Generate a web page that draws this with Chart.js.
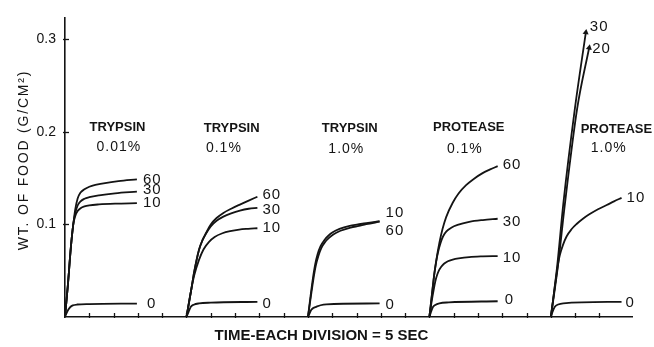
<!DOCTYPE html>
<html><head><meta charset="utf-8">
<script src="https://cdn.jsdelivr.net/npm/chart.js@4"></script>
<style>html,body{margin:0;padding:0;background:#fff}</style>
</head><body>
<canvas id="c" width="654" height="347"></canvas>
<script>
// ---------------- data ----------------
// time in seconds (each axis division = 5 s); each trial starts 5 divisions after the previous one
const trialStart  = [0, 25, 50, 75, 100];
const trialEnzyme = ['TRYPSIN', 'TRYPSIN', 'TRYPSIN', 'PROTEASE', 'PROTEASE'];
const trialConc   = ['0.01%', '0.1%', '1.0%', '0.1%', '1.0%'];
const yTickValues = [0.1, 0.2, 0.3];
const xMax = 116.7;   // s
const yMax = 0.3238;  // g/cm2

// Trypsin 0.01 %
const tA60 = [0, 0.6, 1.2, 1.7, 2.1, 2.6, 3.2, 4.0, 5.0, 6.5, 8.25, 11.0, 14.8];
const vA60 = [0, 0.035, 0.075, 0.100, 0.116, 0.128, 0.1345, 0.138, 0.1408, 0.143, 0.1448, 0.1468, 0.1487];
const tA30 = [0, 0.6, 1.2, 1.7, 2.1, 2.6, 3.2, 4.0, 5.0, 7.0, 10.3, 14.8];
const vA30 = [0, 0.035, 0.075, 0.100, 0.112, 0.1205, 0.125, 0.1278, 0.1295, 0.1315, 0.1337, 0.1355];
const tA10 = [0, 0.6, 1.2, 1.7, 2.1, 2.6, 3.2, 4.0, 5.0, 7.0, 10.3, 14.8];
const vA10 = [0, 0.035, 0.075, 0.100, 0.109, 0.1145, 0.1175, 0.1195, 0.1207, 0.1217, 0.1225, 0.123];
const tA0  = [0, 0.3, 0.7, 1.1, 1.6, 2.5, 5.0, 14.8];
const vA0  = [0, 0.004, 0.008, 0.0108, 0.0125, 0.0135, 0.014, 0.0145];
// Trypsin 0.1 %
const tB60 = [0, 1.0, 1.6, 2.6, 3.3, 4.0, 5.0, 6.2, 7.6, 9.2, 11.0, 12.8, 14.6];
const vB60 = [0, 0.030, 0.049, 0.073, 0.083, 0.0905, 0.100, 0.107, 0.1125, 0.117, 0.1215, 0.1258, 0.130];
const tB30 = [0, 1.0, 1.6, 2.6, 3.3, 4.0, 5.0, 6.2, 7.6, 9.2, 11.0, 12.8, 14.6];
const vB30 = [0, 0.030, 0.049, 0.073, 0.083, 0.0900, 0.098, 0.104, 0.1085, 0.112, 0.115, 0.117, 0.118];
const tB10 = [0, 1.0, 1.6, 2.6, 3.5, 4.6, 5.8, 7.4, 9.0, 10.85, 12.7, 14.6];
const vB10 = [0, 0.030, 0.045, 0.062, 0.073, 0.081, 0.0865, 0.0905, 0.0928, 0.0945, 0.0953, 0.0959];
const tB0  = [0, 0.4, 0.9, 1.5, 2.6, 5.0, 14.6];
const vB0  = [0, 0.005, 0.011, 0.0133, 0.0147, 0.0155, 0.0164];
// Trypsin 1.0 %
const tC10 = [0, 0.5, 1.0, 1.5, 2.0, 2.6, 3.4, 4.2, 5.1, 6.5, 8.6, 10.3, 12.0, 14.75];
const vC10 = [0, 0.021, 0.041, 0.057, 0.068, 0.0765, 0.0833, 0.0878, 0.0915, 0.0952, 0.0985, 0.1000, 0.1015, 0.1035];
const tC60 = [0, 0.55, 1.1, 1.6, 2.15, 2.75, 3.55, 4.4, 5.3, 6.7, 8.8, 10.5, 12.0, 14.75];
const vC60 = [0, 0.020, 0.040, 0.055, 0.066, 0.0745, 0.0812, 0.0858, 0.0895, 0.0932, 0.0966, 0.0985, 0.1003, 0.103];
const tC0  = [0, 0.3, 0.7, 1.1, 1.7, 2.6, 3.8, 14.75];
const vC0  = [0, 0.0035, 0.0078, 0.0097, 0.011, 0.0127, 0.0137, 0.0147];
// Protease 0.1 %
const tD60 = [0, 0.5, 1.0, 1.5, 2.05, 2.7, 3.45, 4.8, 6.0, 7.55, 9.2, 10.95, 12.5, 14.05];
const vD60 = [0, 0.023, 0.046, 0.064, 0.080, 0.095, 0.108, 0.1235, 0.1335, 0.1425, 0.1495, 0.1555, 0.1595, 0.163];
const tD30 = [0, 0.5, 1.0, 1.4, 1.8, 2.3, 2.8, 3.5, 4.5, 5.8, 8.2, 11.0, 14.05];
const vD30 = [0, 0.023, 0.046, 0.060, 0.0705, 0.080, 0.087, 0.0925, 0.0965, 0.0995, 0.1028, 0.1048, 0.1062];
const tD10 = [0, 0.5, 0.9, 1.2, 1.5, 1.9, 2.4, 3.0, 3.8, 4.8, 6.0, 8.2, 11.0, 14.05];
const vD10 = [0, 0.018, 0.030, 0.038, 0.044, 0.0495, 0.054, 0.0575, 0.0603, 0.062, 0.0633, 0.0648, 0.0655, 0.0658];
const tD0  = [0, 0.3, 0.7, 1.2, 2.05, 4.0, 14.05];
const vD0  = [0, 0.005, 0.0105, 0.013, 0.0148, 0.0158, 0.017];
// Protease 1.0 %
const tE30 = [0, 1.3, 2.55, 4.95, 7.2];
const vE30 = [0, 0.055, 0.1218, 0.2254, 0.3076];
const tE20 = [0, 1.45, 2.88, 5.42, 7.88];
const vE20 = [0, 0.055, 0.1218, 0.2254, 0.291];
const tE10 = [0, 0.5, 0.82, 1.17, 1.5, 1.85, 2.5, 3.23, 4.2, 5.3, 6.6, 8.0, 9.7, 11.5, 13.0, 14.55];
const vE10 = [0, 0.020, 0.033, 0.046, 0.058, 0.067, 0.078, 0.087, 0.0945, 0.1005, 0.1062, 0.1112, 0.1165, 0.121, 0.125, 0.1287];
const tE0  = [0, 0.3, 0.82, 1.5, 2.55, 14.55];
const vE0  = [0, 0.005, 0.011, 0.0135, 0.0148, 0.0164];

const curves = [
  {trial: 0, label: '60', t: tA60, v: vA60}, {trial: 0, label: '30', t: tA30, v: vA30},
  {trial: 0, label: '10', t: tA10, v: vA10}, {trial: 0, label: '0',  t: tA0,  v: vA0},
  {trial: 1, label: '60', t: tB60, v: vB60}, {trial: 1, label: '30', t: tB30, v: vB30},
  {trial: 1, label: '10', t: tB10, v: vB10}, {trial: 1, label: '0',  t: tB0,  v: vB0},
  {trial: 2, label: '10', t: tC10, v: vC10}, {trial: 2, label: '60', t: tC60, v: vC60},
  {trial: 2, label: '0',  t: tC0,  v: vC0},
  {trial: 3, label: '60', t: tD60, v: vD60}, {trial: 3, label: '30', t: tD30, v: vD30},
  {trial: 3, label: '10', t: tD10, v: vD10}, {trial: 3, label: '0',  t: tD0,  v: vD0},
  {trial: 4, label: '30', t: tE30, v: vE30, arrow: true}, {trial: 4, label: '20', t: tE20, v: vE20, arrow: true},
  {trial: 4, label: '10', t: tE10, v: vE10}, {trial: 4, label: '0',  t: tE0,  v: vE0}
];

// ---------------- layout / style ----------------
const INK = '#141414';
const FONT = '"Liberation Sans", Arial, sans-serif';
// pixel offsets of each curve's end label (same order as curves)
const labelOffsets = [
  [6, 0], [6, -2], [6, 0], [10, 0],
  [5, -1.5], [5, 2], [5, 0], [5, 2],
  [6, -8], [6, 9], [6, 1],
  [5, -1], [5, 3], [5, 2], [7, -1],
  [4, -6], [3, 1], [5, 0], [4, 1]
];
// trial title placement: [x rel. to trial start (s), y, x of conc (s), y of conc]
const titlePlace = [
  [10.8, 0.205, 11.1, 0.184],
  [9.3, 0.204, 7.7, 0.183],
  [8.6, 0.204, 7.9, 0.181],
  [8.1, 0.205, 7.3, 0.181],
  [13.5, 0.203, 11.9, 0.182]
];

const datasets = curves.map(c => ({
  data: c.t.map((t, i) => ({x: trialStart[c.trial] + t, y: c.v[i]})),
  borderColor: INK,
  borderWidth: 1.8,
  cubicInterpolationMode: 'monotone',
  fill: false,
  pointStyle: 'triangle',
  pointBackgroundColor: INK,
  pointBorderColor: INK,
  pointBorderWidth: 0,
  pointRadius: ctx => (c.arrow && ctx.dataIndex === c.t.length - 1) ? 3.5 : 0,
  pointHoverRadius: 0,
  pointRotation: ctx => {
    if (!c.arrow) return 0;
    const n = c.t.length, xs = ctx.chart.scales.x, ys = ctx.chart.scales.y;
    if (!xs || !ys) return 8;
    const x0 = xs.getPixelForValue(trialStart[c.trial] + c.t[n - 2]), y0 = ys.getPixelForValue(c.v[n - 2]);
    const x1 = xs.getPixelForValue(trialStart[c.trial] + c.t[n - 1]), y1 = ys.getPixelForValue(c.v[n - 1]);
    return Math.atan2(x1 - x0, -(y1 - y0)) * 180 / Math.PI;
  }
}));

function drawText(ctx, s, x, y, font, align, spacing) {
  ctx.save();
  ctx.font = font;
  ctx.fillStyle = INK;
  ctx.textAlign = align || 'left';
  ctx.textBaseline = 'middle';
  if ('letterSpacing' in ctx) ctx.letterSpacing = (spacing || 0) + 'px';
  ctx.fillText(s, x, y);
  ctx.restore();
}

const annotPlugin = {
  id: 'annot',
  afterDraw(chart) {
    const ctx = chart.ctx, xs = chart.scales.x, ys = chart.scales.y, area = chart.chartArea;
    ctx.save();
    ctx.strokeStyle = INK;
    ctx.lineWidth = 1.3;
    // x-axis division ticks (inward)
    xs.ticks.forEach(tk => {
      if (tk.value <= 0 || Math.abs(tk.value / 5 - Math.round(tk.value / 5)) > 1e-6) return;
      const px = Math.round(xs.getPixelForValue(tk.value)) + 0.5;
      ctx.beginPath(); ctx.moveTo(px, area.bottom + 1); ctx.lineTo(px, area.bottom - 4); ctx.stroke();
    });
    // y-axis ticks
    yTickValues.forEach(v => {
      const py = Math.round(ys.getPixelForValue(v)) + 0.5;
      ctx.beginPath(); ctx.moveTo(area.left - 2, py); ctx.lineTo(area.left + 4, py); ctx.stroke();
    });
    ctx.restore();

    // curve end labels
    curves.forEach((c, i) => {
      const n = c.t.length;
      const px = xs.getPixelForValue(trialStart[c.trial] + c.t[n - 1]);
      const py = ys.getPixelForValue(c.v[n - 1]);
      const off = labelOffsets[i];
      drawText(ctx, c.label, px + off[0], py + off[1], '15px ' + FONT, 'left', 1);
    });

    // trial titles
    trialEnzyme.forEach((name, k) => {
      const p = titlePlace[k];
      drawText(ctx, name, xs.getPixelForValue(trialStart[k] + p[0]), ys.getPixelForValue(p[1]),
               'bold 13px ' + FONT, 'center', 0);
      drawText(ctx, trialConc[k], xs.getPixelForValue(trialStart[k] + p[2]), ys.getPixelForValue(p[3]),
               '14px ' + FONT, 'center', 1);
    });

    // axis titles
    drawText(ctx, 'TIME-EACH DIVISION = 5 SEC', 321.5, 336, 'bold 15px ' + FONT, 'center', 0);
    ctx.save();
    ctx.translate(24, 160);
    ctx.rotate(-Math.PI / 2);
    drawText(ctx, 'WT. OF FOOD (G/CM²)', 0, 0, '14px ' + FONT, 'center', 1.8);
    ctx.restore();
  }
};

new Chart(document.getElementById('c'), {
  type: 'line',
  data: {datasets},
  options: {
    responsive: false,
    animation: false,
    devicePixelRatio: 1,
    layout: {padding: {top: 5, right: 22, left: 0, bottom: 0}},
    plugins: {legend: {display: false}, tooltip: {enabled: false}},
    events: [],
    scales: {
      x: {
        type: 'linear', min: 0, max: xMax,
        ticks: {display: false, stepSize: 5},
        grid: {display: true, drawOnChartArea: false, drawTicks: false},
        border: {display: true, color: INK, width: 1.6},
        afterFit: s => { s.height = 30; }
      },
      y: {
        type: 'linear', min: 0, max: yMax,
        ticks: {
          stepSize: 0.1, padding: 9, color: INK,
          font: {family: FONT, size: 14},
          callback: v => yTickValues.some(t => Math.abs(t - v) < 1e-9) ? v.toFixed(1) : ''
        },
        grid: {display: true, drawOnChartArea: false, drawTicks: false},
        border: {display: true, color: INK, width: 1.6},
        afterFit: s => { s.width = 65; }
      }
    }
  },
  plugins: [annotPlugin]
});
</script>
</body></html>
